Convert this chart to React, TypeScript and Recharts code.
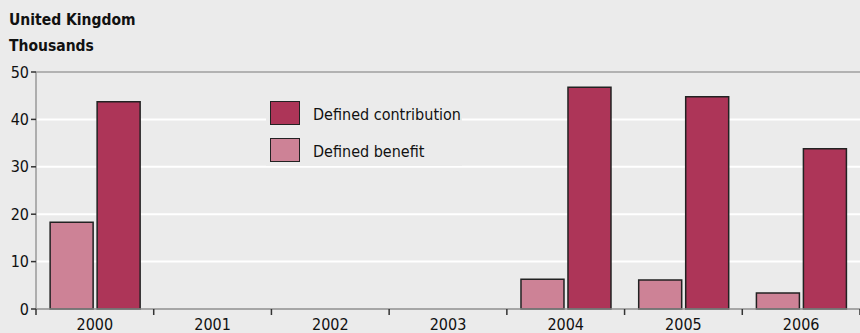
import React from "react";
import { BarChart, Bar, XAxis, YAxis, CartesianGrid, ReferenceLine } from "recharts";

const years = ["2000", "2001", "2002", "2003", "2004", "2005", "2006"];
const definedBenefit = [18.3, null, null, null, 6.3, 6.1, 3.4];
const definedContribution = [43.7, null, null, null, 46.8, 44.8, 33.8];
const yTicks = [0, 10, 20, 30, 40, 50];

const data = years.map((y, i) => ({ year: y, db: definedBenefit[i], dc: definedContribution[i] }));

const W = 860;
const H = 333;
const LEFT = 36;
const TOP = 72;
const BOTTOM = 24;
const BAND = (W - LEFT) / years.length;
const FONT = "'Liberation Sans Narrow', 'DejaVu Sans Condensed', 'Open Sans', sans-serif";
const DC_COLOR = "#ad3558";
const DB_COLOR = "#cd8296";
const BG = "#ebebeb";

const XTick = (props: any) => {
  const { x, y, payload, index } = props;
  const left = x - BAND / 2;
  return (
    <g>
      <line x1={left} x2={left} y1={y - 8} y2={y - 2} stroke="#333" strokeWidth={1.5} />
      {index === years.length - 1 && (
        <line x1={left + BAND} x2={left + BAND} y1={y - 8} y2={y - 2} stroke="#333" strokeWidth={1.5} />
      )}
      <text x={x} y={y + 13} textAnchor="middle" fontSize={16} fill="#111" fontFamily={FONT}>
        {payload.value}
      </text>
    </g>
  );
};

const textStyle: React.CSSProperties = { position: "absolute", whiteSpace: "nowrap", color: "#111" };

export default function App() {
  return (
    <div style={{ position: "absolute", left: 0, top: 0, width: W, height: H, background: BG, fontFamily: FONT }}>
      <div style={{ ...textStyle, left: 9, top: 11, fontSize: 15.5, fontWeight: "bold", lineHeight: "18px" }}>
        United Kingdom
      </div>
      <div style={{ ...textStyle, left: 9, top: 37, fontSize: 15.5, fontWeight: "bold", lineHeight: "18px" }}>
        Thousands
      </div>
      <BarChart
        width={W}
        height={H}
        data={data}
        margin={{ top: TOP, right: 0, bottom: 0, left: 0 }}
        barCategoryGap="12%"
        barGap={4}
      >
        <CartesianGrid horizontal={true} vertical={false} stroke="#ffffff" strokeWidth={2} />
        <ReferenceLine y={50} stroke="#999" strokeWidth={1.5} />
        <XAxis
          dataKey="year"
          height={BOTTOM}
          axisLine={{ stroke: "#888", strokeWidth: 1.5 }}
          tickLine={false}
          tick={<XTick />}
          interval={0}
        />
        <YAxis
          width={LEFT}
          domain={[0, 50]}
          ticks={yTicks}
          axisLine={{ stroke: "#999", strokeWidth: 1.5 }}
          tickLine={{ stroke: "#333", strokeWidth: 1.5 }}
          tickSize={5}
          tick={{ fontSize: 16, fill: "#111", fontFamily: FONT }}
          interval={0}
        />
        <Bar dataKey="db" fill={DB_COLOR} stroke="#222" strokeWidth={1.5} isAnimationActive={false} />
        <Bar dataKey="dc" fill={DC_COLOR} stroke="#222" strokeWidth={1.5} isAnimationActive={false} />
      </BarChart>
      <div style={{ position: "absolute", left: 266, top: 98, width: 196, height: 68, background: BG }}>
        <div style={{ position: "absolute", left: 4, top: 3, width: 28, height: 22, background: DC_COLOR, border: "1px solid #222" }} />
        <div style={{ ...textStyle, left: 47, top: 6, fontSize: 16, lineHeight: "22px" }}>
          Defined contribution
        </div>
        <div style={{ position: "absolute", left: 4, top: 40, width: 28, height: 22, background: DB_COLOR, border: "1px solid #222" }} />
        <div style={{ ...textStyle, left: 47, top: 43, fontSize: 16, lineHeight: "22px" }}>
          Defined benefit
        </div>
      </div>
    </div>
  );
}
